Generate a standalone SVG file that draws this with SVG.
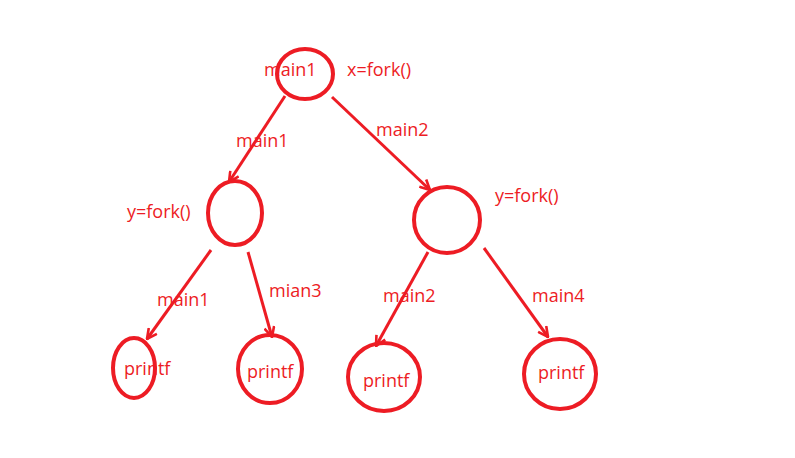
<svg xmlns="http://www.w3.org/2000/svg" width="795" height="458" viewBox="0 0 795 458">
<defs>
<style>
.n{fill:none;stroke:#ED1C24;stroke-width:4}
.e{fill:none;stroke:#ED1C24;stroke-width:3}
text{fill:#ED1C24;font-family:"Open Sans","Noto Sans",sans-serif;font-size:18px}
</style>
<marker id="ah" viewBox="0 0 12 12" refX="11" refY="6" markerWidth="12" markerHeight="12" markerUnits="userSpaceOnUse" orient="auto">
<path d="M1,1 L11,6 L1,11" fill="none" stroke="#ED1C24" stroke-width="2.6" stroke-linejoin="miter"/>
</marker>
</defs>
<rect width="795" height="458" fill="#fff"/>
<g id="connectors">
<line class="e" x1="285" y1="96" x2="229" y2="182" marker-end="url(#ah)"/>
<line class="e" x1="332" y1="97" x2="430" y2="190" marker-end="url(#ah)"/>
<line class="e" x1="211" y1="250" x2="147" y2="339" marker-end="url(#ah)"/>
<line class="e" x1="248" y1="252" x2="272" y2="337" marker-end="url(#ah)"/>
<line class="e" x1="428" y1="252" x2="376" y2="346" marker-end="url(#ah)"/>
<line class="e" x1="484" y1="248" x2="548" y2="337" marker-end="url(#ah)"/>
<text x="236" y="147">main1</text>
<text x="376" y="136">main2</text>
<text x="157" y="306">main1</text>
<text x="269" y="297">mian3</text>
<text x="383" y="302">main2</text>
<text x="532" y="302">main4</text>
</g>
<g id="root">
<ellipse class="n" cx="305" cy="74" rx="28" ry="25"/>
<text x="264" y="76">main1</text>
<text x="347" y="76">x=fork()</text>
</g>
<g id="left">
<ellipse class="n" cx="235" cy="213" rx="27" ry="32"/>
<text x="127" y="218">y=fork()</text>
</g>
<g id="right">
<ellipse class="n" cx="447" cy="220" rx="33" ry="33"/>
<text x="495" y="202">y=fork()</text>
</g>
<g id="p1">
<ellipse class="n" cx="134" cy="368" rx="21" ry="30"/>
<text x="124" y="375">printf</text>
</g>
<g id="p2">
<ellipse class="n" cx="270" cy="369" rx="32" ry="34"/>
<text x="247" y="378">printf</text>
</g>
<g id="p3">
<ellipse class="n" cx="384" cy="377" rx="36" ry="34"/>
<text x="363" y="387">printf</text>
</g>
<g id="p4">
<ellipse class="n" cx="560" cy="374" rx="36" ry="35"/>
<text x="538" y="379">printf</text>
</g>
</svg>
